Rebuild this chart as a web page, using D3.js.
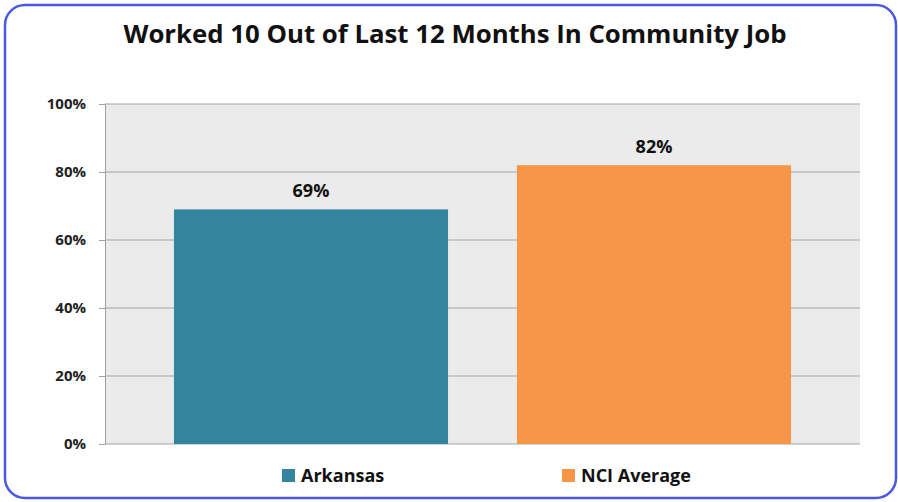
<!DOCTYPE html>
<html><head><meta charset="utf-8">
<script src="https://cdn.jsdelivr.net/npm/d3@7"></script>
<style>html,body{margin:0;padding:0;background:#fff;}svg{display:block;}</style>
</head><body>
<svg id="chart" width="898" height="502"></svg>
<script>
const title = "Worked 10 Out of Last 12 Months In Community Job";
const series = ["Arkansas", "NCI Average"];
const values = [0.69, 0.82];
const colors = ["#33849c", "#f79646"];
const yTicks = [0, 0.2, 0.4, 0.6, 0.8, 1.0];

const svg = d3.select("#chart");
const font = "'Open Sans', 'Liberation Sans', sans-serif";
const m = {left: 105, right: 860, top: 104, bottom: 444};

svg.append("rect").attr("x", 5).attr("y", 5).attr("width", 891).attr("height", 493)
  .attr("rx", 20).attr("fill", "#fff").attr("stroke", "#4a5ae0").attr("stroke-width", 2.5);

svg.append("text").attr("x", 455).attr("y", 43).attr("text-anchor", "middle")
  .attr("font-family", font).attr("font-weight", "bold").attr("font-size", 25)
  .attr("textLength", 663).attr("lengthAdjust", "spacingAndGlyphs")
  .attr("fill", "#111").text(title);

const y = d3.scaleLinear().domain([0, 1]).range([m.bottom, m.top]);
const x = d3.scaleBand().domain(series).range([m.left, m.right]).paddingInner(0.201).paddingOuter(0.201);

svg.append("rect").attr("x", m.left).attr("y", m.top).attr("width", m.right - m.left)
  .attr("height", m.bottom - m.top).attr("fill", "#ebebeb");

const yAxis = d3.axisLeft(y).tickValues(yTicks).tickFormat(d3.format(".0%")).tickSize(6).tickPadding(13);
const ga = svg.append("g").attr("transform", `translate(${m.left},0)`).call(yAxis);
ga.select(".domain").attr("stroke", "#a0a0a0");
ga.selectAll(".tick line").attr("stroke", "#a0a0a0");
ga.selectAll(".tick text").attr("font-family", font).attr("font-weight", "bold")
  .attr("font-size", 15).attr("fill", "#222");

svg.append("g").selectAll("line").data(yTicks).join("line")
  .attr("x1", m.left).attr("x2", m.right).attr("y1", d => y(d)).attr("y2", d => y(d))
  .attr("stroke", "#a6a6a6").attr("stroke-width", 1.2);

svg.append("g").selectAll("rect").data(series).join("rect")
  .attr("x", d => x(d)).attr("width", x.bandwidth())
  .attr("y", (d, i) => y(values[i])).attr("height", (d, i) => y(0) - y(values[i]))
  .attr("fill", (d, i) => colors[i]);

svg.append("g").selectAll("text").data(series).join("text")
  .attr("x", d => x(d) + x.bandwidth() / 2).attr("y", (d, i) => y(values[i]) - 12)
  .attr("text-anchor", "middle").attr("font-family", font).attr("font-weight", "bold")
  .attr("font-size", 18).attr("fill", "#111").text((d, i) => d3.format(".0%")(values[i]));

const legX = [282, 562];
const lg = svg.append("g").selectAll("g").data(series).join("g")
  .attr("transform", (d, i) => `translate(${legX[i]},469)`);
lg.append("rect").attr("width", 13).attr("height", 13).attr("fill", (d, i) => colors[i]);
lg.append("text").attr("x", 19).attr("y", 13).attr("font-family", font).attr("font-weight", "bold")
  .attr("font-size", 18).attr("fill", "#111").text(d => d);
</script>
</body></html>
